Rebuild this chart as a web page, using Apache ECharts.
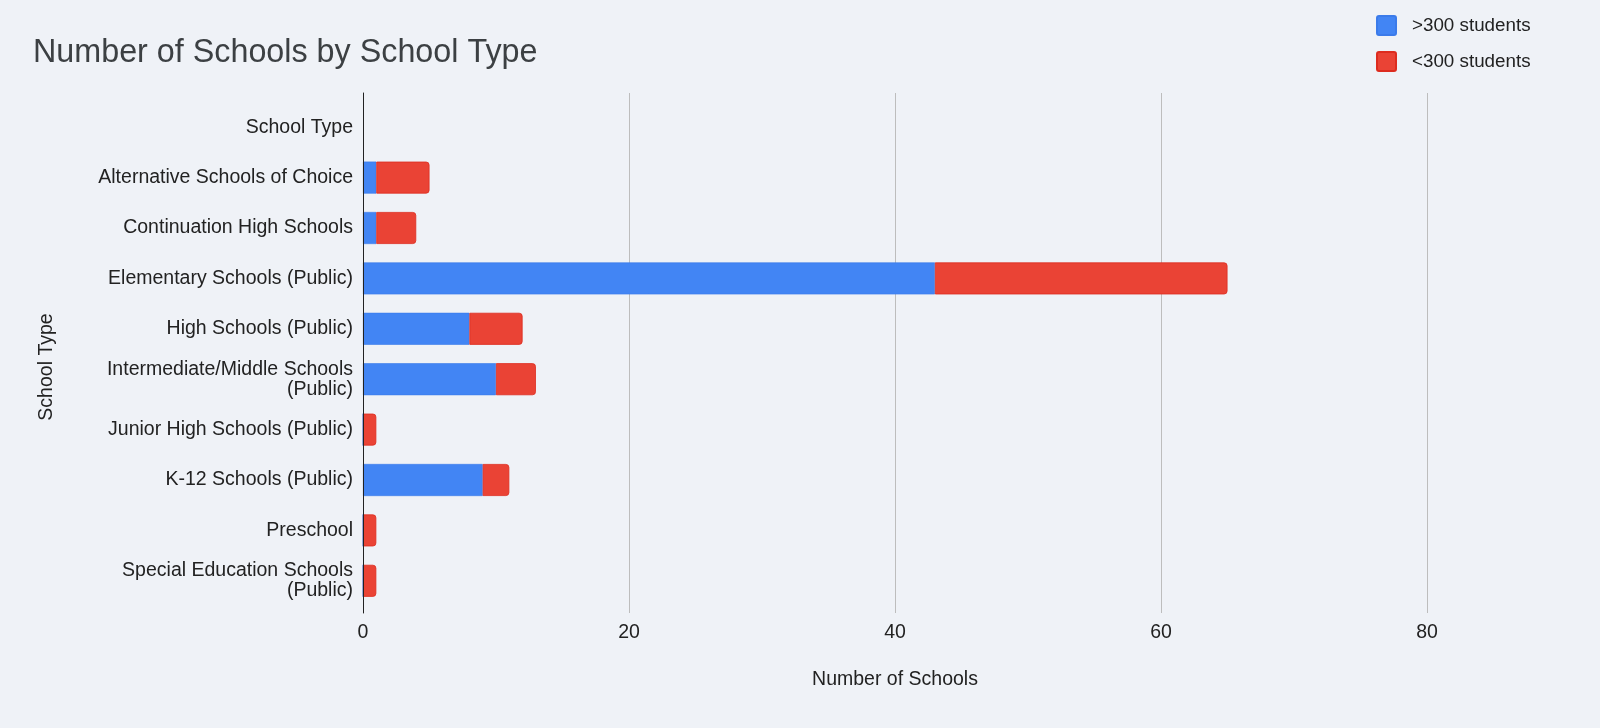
<!DOCTYPE html>
<html>
<head>
<meta charset="utf-8">
<script src="https://cdn.jsdelivr.net/npm/echarts@6/dist/echarts.min.js"></script>
<style>
html,body{margin:0;padding:0;background:#eff2f7;}
#chart{width:1600px;height:728px;}
</style>
</head>
<body>
<div id="chart"></div>
<script>
const categories = [
  'School Type',
  'Alternative Schools of Choice',
  'Continuation High Schools',
  'Elementary Schools (Public)',
  'High Schools (Public)',
  'Intermediate/Middle Schools\n(Public)',
  'Junior High Schools (Public)',
  'K-12 Schools (Public)',
  'Preschool',
  'Special Education Schools\n(Public)'
];
const over300 = [null, 1, 1, 43, 8, 10, 0, 9, 0, 0];
const under300 = [null, 4, 3, 22, 4, 3, 1, 2, 1, 1];
const xTicks = { min: 0, max: 80, interval: 20 };
const seriesNames = ['>300 students', '<300 students'];

const FONT = '"Liberation Sans", Arial, sans-serif';
const ICON = 'path://M2,0 H17 A2,2 0 0 1 19,2 V17 A2,2 0 0 1 17,19 H2 A2,2 0 0 1 0,17 V2 A2,2 0 0 1 2,0 Z';
const chart = echarts.init(document.getElementById('chart'));
chart.setOption({
  backgroundColor: '#eff2f7',
  animation: false,
  title: {
    text: 'Number of Schools by School Type',
    left: 28, top: 32,
    textStyle: { fontFamily: FONT, fontSize: 32.3, fontWeight: 'normal', color: '#3c4043' }
  },
  legend: {
    orient: 'vertical',
    left: 1376, top: 15, padding: 0,
    itemWidth: 19, itemHeight: 19, itemGap: 15,
    icon: ICON,
    data: seriesNames,
    textStyle: { fontFamily: FONT, fontSize: 18.8, color: '#222', padding: [0, 0, 0, 11] }
  },
  grid: [
    { left: 363, width: 1064, top: 102, height: 504 },
    { left: 363, width: 1064, top: 93, height: 520 }
  ],
  xAxis: [
    { gridIndex: 0, type: 'value', min: xTicks.min, max: xTicks.max, interval: xTicks.interval,
      axisLine: { show: false }, axisTick: { show: false }, axisLabel: { show: false }, splitLine: { show: false } },
    { gridIndex: 1, type: 'value', min: xTicks.min, max: xTicks.max, interval: xTicks.interval,
      axisLine: { show: false }, axisTick: { show: false },
      axisLabel: { margin: 10, fontFamily: FONT, fontSize: 19.5, color: '#222' },
      splitLine: { show: true, lineStyle: { color: '#bdbdbd', width: 1 } },
      name: 'Number of Schools', nameLocation: 'middle', nameGap: 57,
      nameTextStyle: { fontFamily: FONT, fontSize: 19.5, color: '#222' } }
  ],
  yAxis: [
    { gridIndex: 0, type: 'category', data: categories, inverse: true,
      axisLine: { show: false }, axisTick: { show: false },
      axisLabel: { margin: 10, fontFamily: FONT, fontSize: 19.5, color: '#222', lineHeight: 20 } },
    { gridIndex: 1, type: 'value', min: 0, max: 1, z: 5,
      axisLine: { show: true, lineStyle: { color: '#222', width: 1 } },
      axisTick: { show: false }, axisLabel: { show: false }, splitLine: { show: false },
      name: 'School Type', nameLocation: 'middle', nameGap: 306, nameRotate: 90,
      nameTextStyle: { fontFamily: FONT, fontSize: 19.5, color: '#222', padding: [0, 28, 0, 0] } }
  ],
  series: [
    { name: seriesNames[0], type: 'bar', stack: 'total', xAxisIndex: 0, yAxisIndex: 0,
      data: over300, barWidth: 32,
      itemStyle: { color: '#4285f4', borderColor: '#3b7bea', borderWidth: 0.6 } },
    { name: seriesNames[1], type: 'bar', stack: 'total', xAxisIndex: 0, yAxisIndex: 0,
      data: under300, barWidth: 32,
      itemStyle: { color: '#ea4335', borderColor: '#dd2c1f', borderWidth: 0.8, borderRadius: [0, 3, 3, 0] } }
  ]
});
</script>
</body>
</html>
